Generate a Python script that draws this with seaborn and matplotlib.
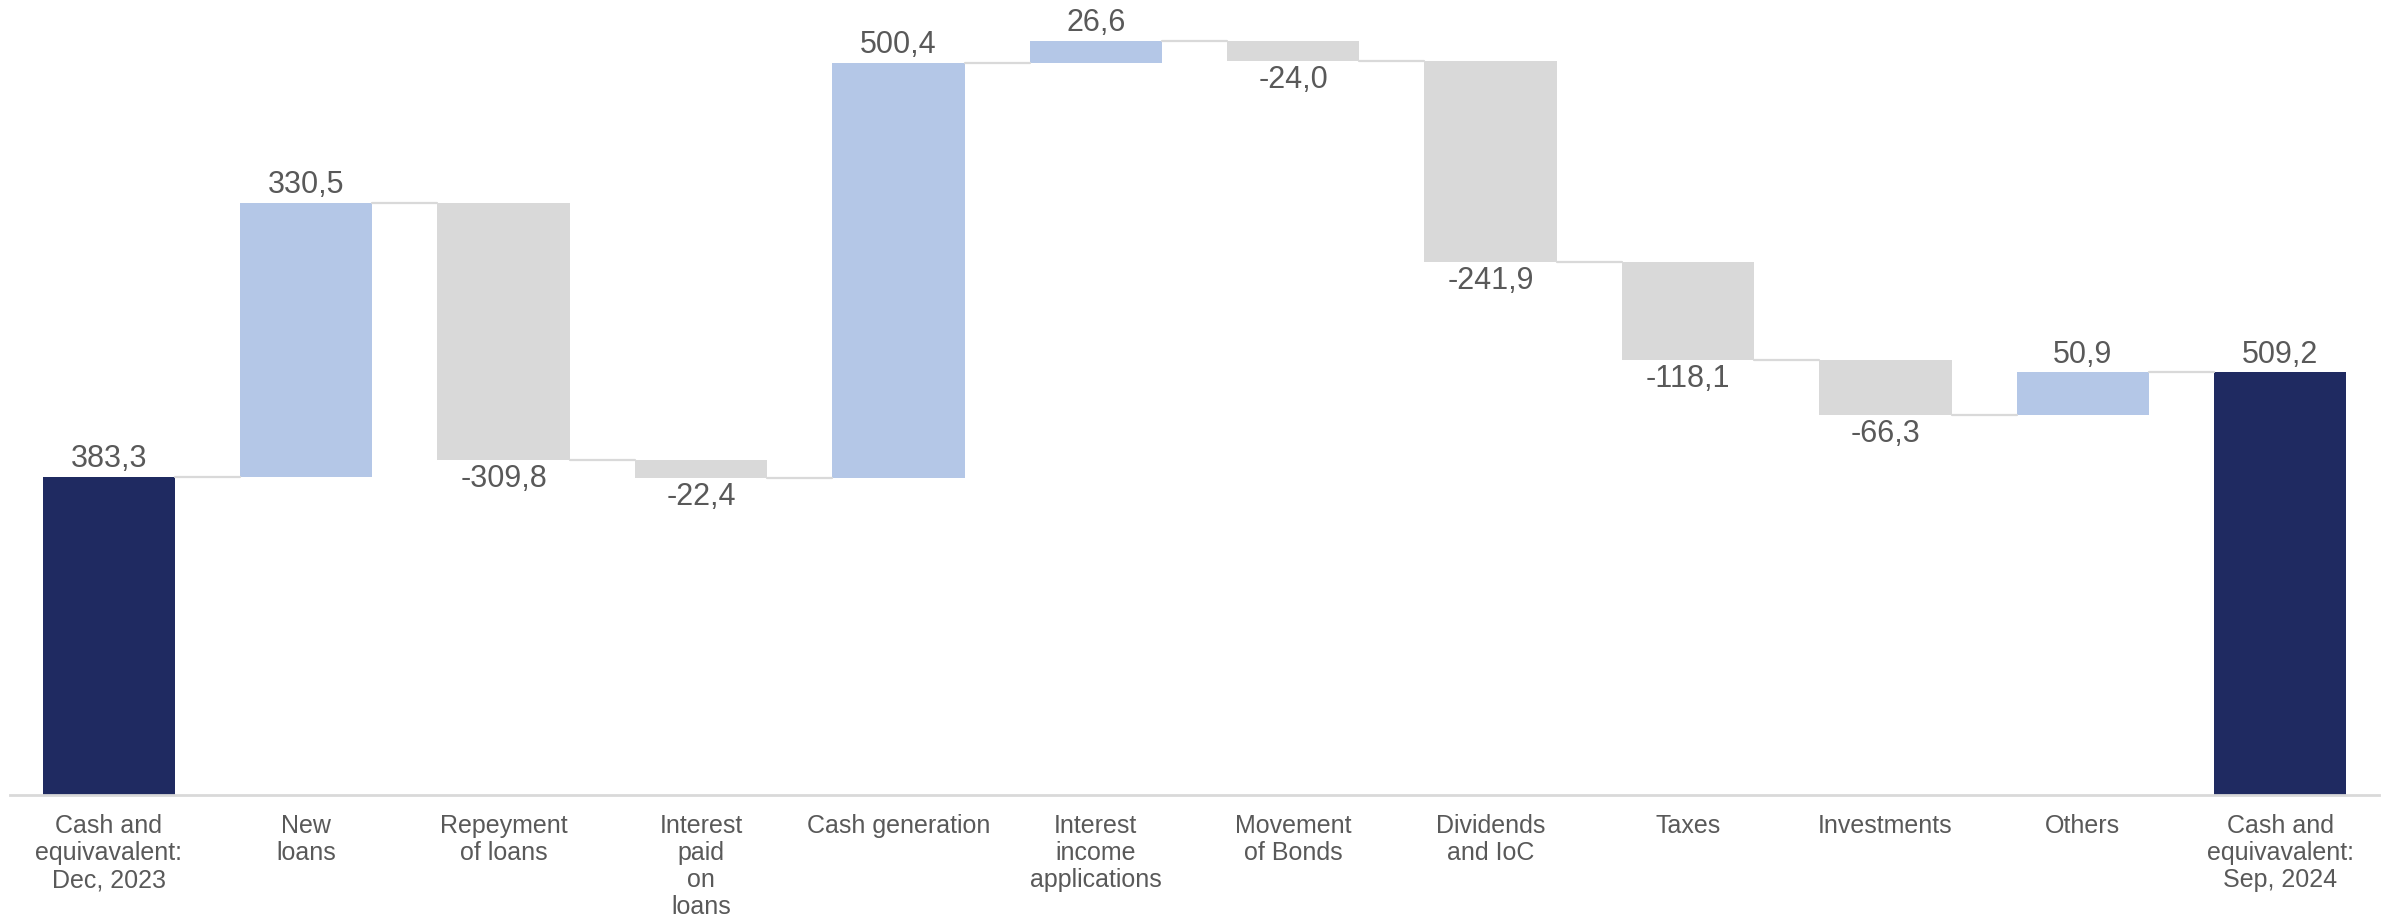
import pandas as pd
import matplotlib.pyplot as plt
import seaborn as sns
import numpy as np

# chart data
categories = [
    "Cash and\nequivavalent:\nDec, 2023",
    "New\nloans",
    "Repeyment\nof loans",
    "Interest\npaid\non\nloans",
    "Cash generation",
    "Interest\nincome\napplications",
    "Movement\nof Bonds",
    "Dividends\nand IoC",
    "Taxes",
    "Investments",
    "Others",
    "Cash and\nequivavalent:\nSep, 2024",
]
values = [383.3, 330.5, -309.8, -22.4, 500.4, 26.6, -24.0, -241.9, -118.1, -66.3, 50.9, 509.2]
kinds = ["total", "delta", "delta", "delta", "delta", "delta", "delta",
         "delta", "delta", "delta", "delta", "total"]

NAVY = "#1F2A61"
BLUE = "#B4C7E7"
GRAY = "#D9D9D9"
TEXT = "#595959"


def build_frame():
    """Compute bar bases and heights for the waterfall"""
    bases, heights, levels = [], [], []
    running = 0.0
    for v, k in zip(values, kinds):
        if k == "total":
            bases.append(0.0)
            heights.append(v)
            running = v
        else:
            start = running
            running = running + v
            bases.append(min(start, running))
            heights.append(abs(v))
        levels.append(running)
    return pd.DataFrame({"label": categories, "value": values, "kind": kinds,
                         "base": bases, "height": heights, "level": levels})


def main():
    df = build_frame()
    sns.set_style("white")
    plt.rcParams["font.family"] = ["Liberation Sans", "DejaVu Sans"]

    fig = plt.figure(figsize=(23.95, 9.22), dpi=100)
    ax = fig.add_axes([10 / 2395, 127 / 922, 2369 / 2395, 795 / 922])

    width = 0.67
    sns.barplot(data=df, x="label", y="height", bottom=df["base"].to_numpy(),
                color=GRAY, width=width, ax=ax, linewidth=0, saturation=1)

    colors = []
    for v, k in zip(df["value"], df["kind"]):
        if k == "total":
            colors.append(NAVY)
        elif v >= 0:
            colors.append(BLUE)
        else:
            colors.append(GRAY)
    for patch, c in zip(ax.patches, colors):
        patch.set_facecolor(c)
        patch.set_edgecolor(c)

    # connector lines
    for i in range(len(df) - 1):
        lvl = df["level"].iloc[i]
        ax.plot([i + width / 2, i + 1 - width / 2], [lvl, lvl],
                color="#D9D9D9", lw=1.6, zorder=1)

    # value labels
    for i, row in df.iterrows():
        txt = f"{row['value']:.1f}".replace(".", ",")
        if row["kind"] == "total" or row["value"] >= 0:
            y = row["base"] + row["height"]
            ax.annotate(txt, (i, y), xytext=(0, 2), textcoords="offset points",
                        ha="center", va="bottom", fontsize=22, color=TEXT)
        else:
            y = row["base"]
            ax.annotate(txt, (i, y), xytext=(0, -3), textcoords="offset points",
                        ha="center", va="top", fontsize=22, color=TEXT)

    ax.set_xlim(-0.5, len(df) - 0.5)
    ax.set_ylim(0, 958)
    ax.set_xlabel("")
    ax.set_ylabel("")
    ax.set_yticks([])
    ax.tick_params(axis="x", length=0, pad=14, labelsize=18, labelcolor=TEXT)
    for lbl in ax.get_xticklabels():
        lbl.set_linespacing(1.15)
        lbl.set_verticalalignment("top")

    for side in ["top", "left", "right"]:
        ax.spines[side].set_visible(False)
    ax.spines["bottom"].set_color("#D9D9D9")
    ax.spines["bottom"].set_linewidth(2)

    fig.savefig("out.png", dpi=100)
    plt.close(fig)


if __name__ == "__main__":
    main()
